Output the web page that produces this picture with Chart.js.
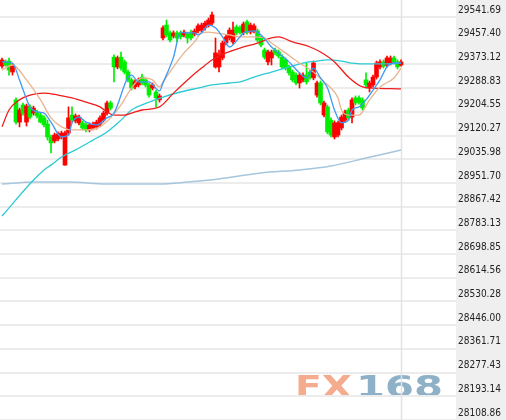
<!DOCTYPE html>
<html>
<head>
<meta charset="utf-8">
<script src="https://cdn.jsdelivr.net/npm/chart.js@4.4.0/dist/chart.umd.min.js"></script>
<style>
  html, body { margin: 0; padding: 0; background: #fff; }
  #kline { display: block; }
</style>
</head>
<body>
<canvas id="kline" width="506" height="420"></canvas>
<script>
// right axis tick labels
const priceTicks = [29541.69, 29457.40, 29373.12, 29288.83, 29204.55, 29120.27, 29035.98, 28951.70,
  28867.42, 28783.13, 28698.85, 28614.56, 28530.28, 28446.00, 28361.71, 28277.43, 28193.14, 28108.86];

// candles, one per bar
const opens = [29367, 29382, 29385, 29346, 29247, 29168, 29229, 29168, 29222, 29200,
  29204, 29193, 29183, 29161, 29115, 29101, 29108, 29115, 29015, 29129,
  29193, 29172, 29165, 29165, 29158, 29140, 29147, 29151, 29161, 29175,
  29200, 29236, 29399, 29364, 29399, 29382, 29346, 29318, 29293, 29300,
  29328, 29318, 29300, 29289, 29275, 29247, 29467, 29513, 29485, 29474,
  29485, 29485, 29478, 29481, 29488, 29481, 29492, 29495, 29503, 29513,
  29520, 29364, 29364, 29396, 29449, 29467, 29453, 29506, 29503, 29485,
  29524, 29488, 29492, 29492, 29467, 29424, 29382, 29396, 29424, 29417,
  29399, 29389, 29364, 29346, 29335, 29307, 29318, 29335, 29346, 29325,
  29264, 29307, 29193, 29222, 29175, 29115, 29122, 29147, 29175, 29211,
  29186, 29254, 29254, 29247, 29318, 29289, 29300, 29328, 29364, 29382,
  29371, 29378, 29396, 29382, 29371];
const highs = [29396, 29389, 29396, 29375, 29254, 29218, 29236, 29232, 29229, 29225,
  29211, 29200, 29190, 29175, 29122, 29129, 29133, 29136, 29136, 29222,
  29222, 29197, 29193, 29172, 29165, 29165, 29168, 29175, 29190, 29207,
  29243, 29243, 29407, 29403, 29417, 29389, 29353, 29325, 29318, 29325,
  29339, 29325, 29307, 29307, 29282, 29268, 29510, 29531, 29492, 29492,
  29492, 29492, 29495, 29488, 29495, 29499, 29517, 29520, 29527, 29538,
  29559, 29467, 29424, 29456, 29478, 29503, 29524, 29513, 29510, 29524,
  29531, 29520, 29517, 29499, 29474, 29431, 29424, 29424, 29431, 29424,
  29407, 29396, 29371, 29353, 29343, 29343, 29343, 29378, 29353, 29385,
  29314, 29314, 29243, 29229, 29183, 29172, 29172, 29193, 29211, 29218,
  29254, 29261, 29261, 29254, 29343, 29314, 29335, 29385, 29389, 29389,
  29403, 29403, 29403, 29389, 29389];
const lows = [29360, 29367, 29335, 29335, 29161, 29151, 29193, 29154, 29179, 29193,
  29183, 29165, 29151, 29104, 29058, 29094, 29101, 29108, 29015, 29122,
  29165, 29165, 29158, 29140, 29133, 29133, 29140, 29143, 29154, 29168,
  29193, 29211, 29311, 29357, 29353, 29339, 29311, 29282, 29286, 29293,
  29300, 29293, 29257, 29282, 29222, 29239, 29460, 29471, 29453, 29467,
  29453, 29463, 29471, 29449, 29460, 29474, 29485, 29488, 29495, 29506,
  29513, 29360, 29346, 29389, 29442, 29460, 29446, 29478, 29481, 29478,
  29481, 29481, 29485, 29453, 29435, 29392, 29371, 29371, 29407, 29396,
  29357, 29353, 29335, 29311, 29300, 29289, 29311, 29303, 29321, 29318,
  29257, 29229, 29186, 29126, 29115, 29108, 29115, 29140, 29168, 29175,
  29165, 29229, 29232, 29211, 29289, 29275, 29293, 29321, 29357, 29360,
  29364, 29371, 29375, 29357, 29367];
const closes = [29389, 29371, 29353, 29367, 29168, 29211, 29200, 29225, 29186, 29218,
  29190, 29168, 29158, 29115, 29094, 29122, 29126, 29129, 29129, 29183,
  29175, 29190, 29186, 29147, 29140, 29158, 29161, 29168, 29183, 29200,
  29236, 29218, 29364, 29396, 29360, 29346, 29318, 29289, 29311, 29318,
  29307, 29300, 29264, 29300, 29254, 29261, 29503, 29478, 29460, 29485,
  29467, 29471, 29488, 29467, 29467, 29492, 29510, 29513, 29520, 29531,
  29549, 29414, 29407, 29449, 29471, 29495, 29495, 29485, 29488, 29517,
  29488, 29513, 29510, 29460, 29442, 29399, 29417, 29417, 29414, 29403,
  29364, 29360, 29343, 29318, 29307, 29335, 29335, 29311, 29328, 29378,
  29307, 29236, 29236, 29133, 29122, 29165, 29165, 29186, 29204, 29183,
  29247, 29236, 29239, 29218, 29300, 29307, 29328, 29378, 29382, 29367,
  29396, 29396, 29382, 29364, 29382];

// moving averages, [bar index, value]
const ma5 = [[0, 29382], [3, 29378], [5, 29318], [8, 29222], [10, 29204], [12, 29200], [14, 29168],
  [17, 29115], [19, 29122], [20, 29165], [22, 29186], [24, 29168], [27, 29158], [30, 29183],
  [32, 29200], [36, 29328], [37, 29335], [39, 29311], [42, 29311], [45, 29279], [46, 29307],
  [49, 29399], [51, 29488], [52, 29485], [55, 29485], [56, 29478], [57, 29485], [59, 29513],
  [61, 29503], [63, 29471], [65, 29435], [68, 29471], [69, 29485], [72, 29492], [74, 29478],
  [77, 29435], [79, 29414], [82, 29382], [85, 29343], [87, 29325], [89, 29360], [91, 29325],
  [93, 29289], [95, 29211], [97, 29165], [99, 29175], [100, 29211], [102, 29222], [104, 29247],
  [106, 29282], [108, 29318], [110, 29364], [112, 29378], [114, 29378]];
const ma10 = [[0, 29353], [3, 29371], [7, 29318], [11, 29247], [14, 29183], [17, 29151], [20, 29140],
  [24, 29140], [28, 29151], [31, 29183], [34, 29229], [37, 29289], [40, 29325], [43, 29318],
  [45, 29293], [46, 29311], [49, 29364], [52, 29414], [55, 29453], [57, 29485], [59, 29488],
  [61, 29485], [65, 29478], [68, 29471], [71, 29471], [75, 29467], [77, 29449], [81, 29414],
  [85, 29378], [89, 29346], [92, 29311], [94, 29289], [96, 29254], [97, 29211], [99, 29193],
  [102, 29193], [105, 29247], [108, 29293], [112, 29325], [114, 29360]];
const ma20 = [[0, 29151], [2, 29211], [5, 29247], [8, 29264], [12, 29271], [16, 29264], [20, 29254],
  [24, 29239], [28, 29222], [30, 29204], [32, 29193], [35, 29193], [37, 29200], [40, 29211],
  [45, 29222], [49, 29271], [53, 29318], [57, 29360], [60, 29389], [64, 29414], [68, 29431],
  [73, 29449], [77, 29467], [79, 29471], [83, 29453], [88, 29435], [91, 29417], [95, 29382],
  [99, 29328], [103, 29293], [106, 29289], [114, 29286]];
const ma30 = [[0, 28834], [9, 28962], [12, 28998], [14, 29015], [17, 29044], [21, 29069], [26, 29104],
  [30, 29133], [34, 29175], [37, 29211], [40, 29229], [46, 29257], [51, 29275], [56, 29289],
  [60, 29300], [65, 29307], [68, 29311], [72, 29328], [77, 29346], [82, 29364], [86, 29378],
  [90, 29385], [93, 29389], [97, 29385], [100, 29378], [105, 29375], [110, 29375], [114, 29378]];
const ma60 = [[0, 28948], [9, 28955], [19, 28955], [30, 28948], [45, 28948], [53, 28955], [62, 28966],
  [74, 28987], [85, 28998], [94, 29012], [104, 29040], [114, 29069]];

const upColor = '#ff0000';
const downColor = '#00ee00';
const candleColors = opens.map((o, i) => closes[i] >= o ? upColor : downColor);
const bodies = opens.map((o, i) => ({ x: i, y: [o, closes[i]] }));
const wicks = lows.map((l, i) => ({ x: i, y: [l, highs[i]] }));
const toPts = arr => arr.map(([i, v]) => ({ x: i, y: v }));

const maLine = (label, data, color, width) => ({
  type: 'line', label, data: toPts(data), borderColor: color, borderWidth: width,
  pointRadius: 0, cubicInterpolationMode: 'monotone', order: 0
});

// grey label panel, watermark and the "now" line
const framePlugin = {
  id: 'frame',
  beforeDraw(chart) {
    const { ctx, chartArea, width, height } = chart;
    ctx.save();
    ctx.fillStyle = '#ffffff';
    ctx.fillRect(0, 0, width, height);
    ctx.fillStyle = '#efefef';
    ctx.fillRect(chartArea.right, 0, width - chartArea.right, height);
    ctx.font = 'bold 30px "DejaVu Sans"';
    ctx.textBaseline = 'alphabetic';
    const stretch = (text, x, y, w, color) => {
      const m = ctx.measureText(text).width;
      ctx.save();
      ctx.translate(x, y);
      ctx.scale(w / m, 1);
      ctx.fillStyle = color;
      ctx.fillText(text, 0, 0);
      ctx.restore();
    };
    stretch('FX', 295, 397, 57, '#f5ab8e');
    stretch('168', 356, 397, 87, '#8fb1c8');
    ctx.restore();
  },
  beforeDatasetsDraw(chart) {
    const { ctx, chartArea, scales } = chart;
    const x = Math.round(scales.x.getPixelForValue(opens.length - 1)) + 0.5;
    ctx.save();
    ctx.strokeStyle = '#e2e2e2';
    ctx.lineWidth = 1.5;
    ctx.beginPath();
    ctx.moveTo(x, chartArea.top);
    ctx.lineTo(x, chartArea.bottom);
    ctx.stroke();
    ctx.restore();
  }
};

const ctx = document.getElementById('kline').getContext('2d');
new Chart(ctx, {
  type: 'bar',
  data: {
    datasets: [
      maLine('MA5', ma5, '#3d99f5', 1.3),
      maLine('MA10', ma10, '#e9b48c', 1.3),
      maLine('MA20', ma20, '#ee1c1c', 1.3),
      maLine('MA30', ma30, '#2ccbd3', 1.3),
      maLine('MA60', ma60, '#a6c6dd', 1.5),
      { label: 'body', data: bodies, backgroundColor: candleColors, barThickness: 4,
        grouped: false, minBarLength: 1, order: 1 },
      { label: 'wick', data: wicks, backgroundColor: candleColors, barThickness: 1,
        grouped: false, order: 2 }
    ]
  },
  options: {
    responsive: false,
    animation: false,
    devicePixelRatio: 1,
    layout: { padding: 0 },
    plugins: { legend: { display: false }, tooltip: { enabled: false } },
    scales: {
      x: { type: 'linear', min: -0.571, max: 129.714, offset: false, display: false },
      y: {
        position: 'right',
        min: 28108.86,
        max: 29602.07,
        afterFit(scale) {
          scale.width = 50;
          scale.paddingTop = 0;
          scale.paddingBottom = 0;
        },
        afterBuildTicks(scale) { scale.ticks = priceTicks.map(v => ({ value: v })); },
        grid: { color: '#ececec', lineWidth: 2, drawTicks: false },
        border: { display: false },
        ticks: {
          padding: 2,
          labelOffset: -7,
          color: '#222',
          font: { family: '"DejaVu Sans Condensed", "DejaVu Sans"', size: 10 },
          callback: v => v.toFixed(2)
        }
      }
    }
  },
  plugins: [framePlugin]
});
</script>
</body>
</html>
